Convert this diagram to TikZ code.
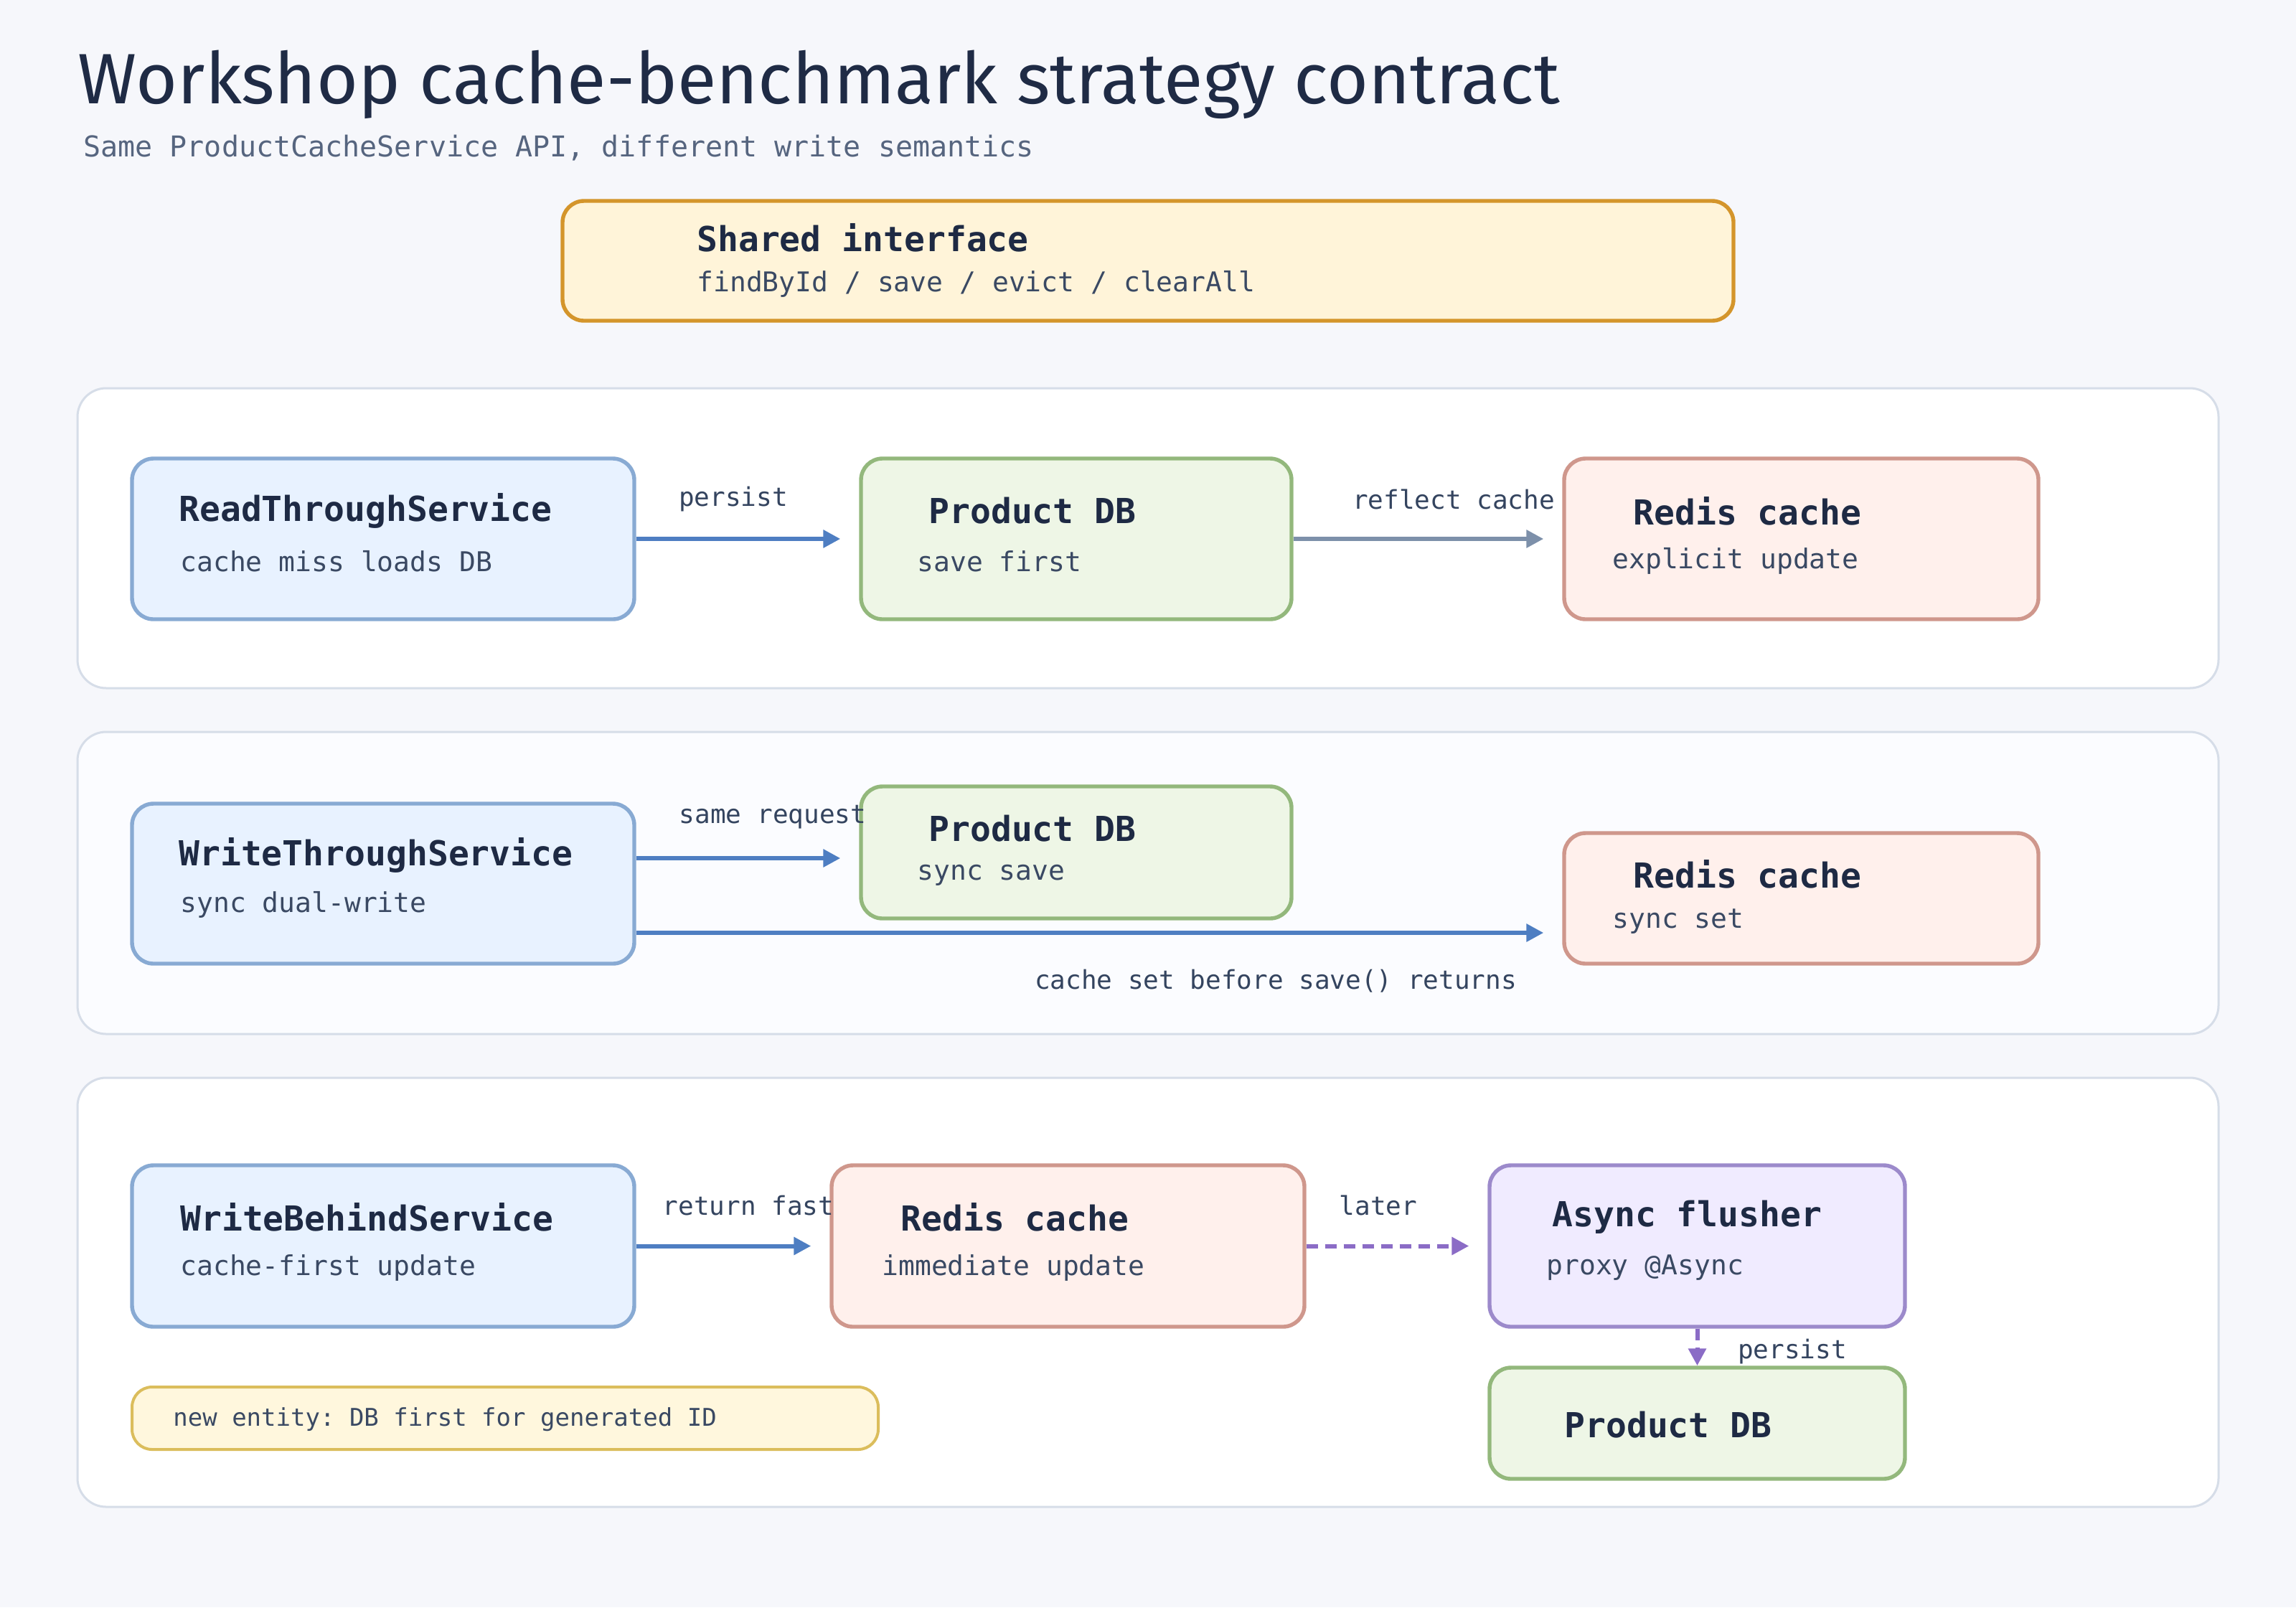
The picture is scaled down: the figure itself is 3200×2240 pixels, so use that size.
\documentclass[tikz,border=0pt]{standalone}
\usepackage{fontspec}
\setmonofont{DejaVu Sans Mono}
\newfontfamily\titlefont{Fira Sans}
\usetikzlibrary{arrows.meta,fit}
\definecolor{bgc}{HTML}{F6F7FB}
\definecolor{lanestroke}{HTML}{D6DDE8}
\definecolor{lanefill}{HTML}{FFFFFF}
\definecolor{lanefillb}{HTML}{FBFCFF}
\definecolor{shfill}{HTML}{FFF4D9}
\definecolor{shstroke}{HTML}{D4952B}
\definecolor{bluefill}{HTML}{E8F2FF}
\definecolor{bluestroke}{HTML}{88AAD3}
\definecolor{greenfill}{HTML}{EEF6E6}
\definecolor{greenstroke}{HTML}{93B87C}
\definecolor{redfill}{HTML}{FFF0EC}
\definecolor{redstroke}{HTML}{CF978C}
\definecolor{purpfill}{HTML}{F0EBFF}
\definecolor{purpstroke}{HTML}{9C8ACB}
\definecolor{notefill}{HTML}{FFF7DD}
\definecolor{notestroke}{HTML}{DBBD5C}
\definecolor{arrblue}{HTML}{4E7EC2}
\definecolor{arrgray}{HTML}{7D90AA}
\definecolor{arrpurp}{HTML}{8B6CC6}
\definecolor{titlec}{HTML}{1F2B45}
\definecolor{subtc}{HTML}{56657F}
\definecolor{boxtc}{HTML}{1E2A44}
\definecolor{boxsc}{HTML}{3A4963}
\definecolor{labc}{HTML}{34445F}
\tikzset{
  lane/.style={draw=lanestroke, fill=lanefill, line width=1.5pt, rounded corners=20pt, inner sep=0pt},
  card/.style={line width=2.7pt, rounded corners=15pt, inner sep=0pt},
  bluecard/.style={card, draw=bluestroke, fill=bluefill},
  greencard/.style={card, draw=greenstroke, fill=greenfill},
  redcard/.style={card, draw=redstroke, fill=redfill},
  purpcard/.style={card, draw=purpstroke, fill=purpfill},
  shcard/.style={card, draw=shstroke, fill=shfill},
  notecard/.style={line width=2pt, rounded corners=14pt, inner sep=0pt, draw=notestroke, fill=notefill},
  ctitle/.style={anchor=west, inner sep=0pt, text=boxtc, font=\ttfamily\bfseries\fontsize{24}{28}\selectfont},
  csub/.style={anchor=west, inner sep=0pt, text=boxsc, font=\ttfamily\fontsize{19}{23}\selectfont},
  lab/.style={inner sep=0pt, text=labc, font=\ttfamily\fontsize{18}{22}\selectfont},
  arr/.style={line width=3pt, -{Triangle[length=12pt,width=12pt]}, shorten >=13pt},
}
\begin{document}
\begin{tikzpicture}[x=0.5pt,y=-0.5pt]
\fill[bgc] (0,0) rectangle (3200,2240);
\useasboundingbox (0,0) rectangle (3200,2240);

% title
\node[anchor=west, inner sep=0pt, text=titlec, font=\titlefont\fontsize{49.7}{58}\selectfont] (title) at (108,118) {Workshop cache-benchmark strategy contract};
\node[anchor=west, inner sep=0pt, text=subtc, font=\ttfamily\fontsize{20}{24}\selectfont] (subtitle) at (116,206) {Same ProductCacheService API, different write semantics};

% shared interface
\node[shcard, fit={(784,280)(2416,447)}] (shared) {};
\node[ctitle] (sharedt) at (971,331) {Shared interface};
\node[csub] (shareds) at (971,396) {findById / save / evict / clearAll};

% lanes
\node[lane, fit={(108,541)(3092,959)}] (lane1) {};
\node[lane, fill=lanefillb, fit={(108,1020)(3092,1441)}] (lane2) {};
\node[lane, fit={(108,1502)(3092,2100)}] (lane3) {};

% lane 1
\node[bluecard, fit={(184,639)(884,863)}] (rts) {};
\node[ctitle] at (249,712) {ReadThroughService};
\node[csub] at (251,782) {cache miss loads DB};
\node[greencard, fit={(1200,639)(1800,863)}] (pdb1) {};
\node[ctitle] at (1294,712) {Product DB};
\node[csub] at (1278,782) {save first};
\node[redcard, fit={(2180,639)(2841,863)}] (rc1) {};
\node[ctitle] at (2276,712) {Redis cache};
\node[csub] at (2247,782) {explicit update};
\draw[arr, draw=arrblue] (rts) -- (pdb1);
\draw[arr, draw=arrgray] (pdb1) -- (rc1);
\node[lab] at (1022,696) {persist};
\node[lab] at (2026,696) {reflect cache};

% lane 2
\node[bluecard, fit={(184,1120)(884,1343)}] (wts) {};
\node[ctitle] at (249,1192) {WriteThroughService};
\node[csub] at (251,1261) {sync dual-write};
\node[greencard, fit={(1200,1096)(1800,1280)}] (pdb2) {};
\node[ctitle] at (1294,1155) {Product DB};
\node[csub] at (1278,1220) {sync save};
\node[redcard, fit={(2180,1161)(2841,1343)}] (rc2) {};
\node[ctitle] at (2276,1218) {Redis cache};
\node[csub] at (2247,1284) {sync set};
\coordinate (w2a) at (wts.east |- 0,1196);
\coordinate (w2b) at (wts.east |- 0,1300);
\draw[arr, draw=arrblue] (w2a) -- (pdb2.west |- w2a);
\draw[arr, draw=arrblue] (w2b) -- (rc2.west |- w2b);
\node[lab] at (1077,1139) {same request};
\node[lab] at (1778,1367) {cache set before save() returns};

% lane 3
\node[bluecard, fit={(184,1624)(884,1849)}] (wbs) {};
\node[ctitle] at (251,1696) {WriteBehindService};
\node[csub] at (251,1767) {cache-first update};
\node[redcard, fit={(1159,1624)(1818,1849)}] (rc3) {};
\node[ctitle] at (1255,1696) {Redis cache};
\node[csub] at (1229,1767) {immediate update};
\node[purpcard, fit={(2076,1624)(2655,1849)}] (af) {};
\node[ctitle] at (2163,1696) {Async flusher};
\node[csub] at (2155,1767) {proxy @Async};
\node[greencard, fit={(2076,1906)(2655,2061)}] (pdb3) {};
\node[ctitle] at (2180,1986) {Product DB};
\node[notecard, fit={(184,1933)(1224,2020)}] (note) {};
\node[anchor=west, inner sep=0pt, text=boxsc, font=\ttfamily\fontsize{17}{20}\selectfont] at (241,1978) {new entity: DB first for generated ID};
\draw[arr, draw=arrblue] (wbs) -- (rc3);
\draw[arr, draw=arrpurp, dash pattern=on 8pt off 5pt] (rc3) -- (af);
\draw[line width=3pt, draw=arrpurp, dash pattern=on 8pt off 5pt, -{Triangle[length=12pt,width=12pt]}] (af) -- (pdb3);
\node[lab] at (1043,1680) {return fast};
\node[lab] at (1921,1680) {later};
\node[lab] at (2498,1884) {persist};
\end{tikzpicture}
\end{document}
